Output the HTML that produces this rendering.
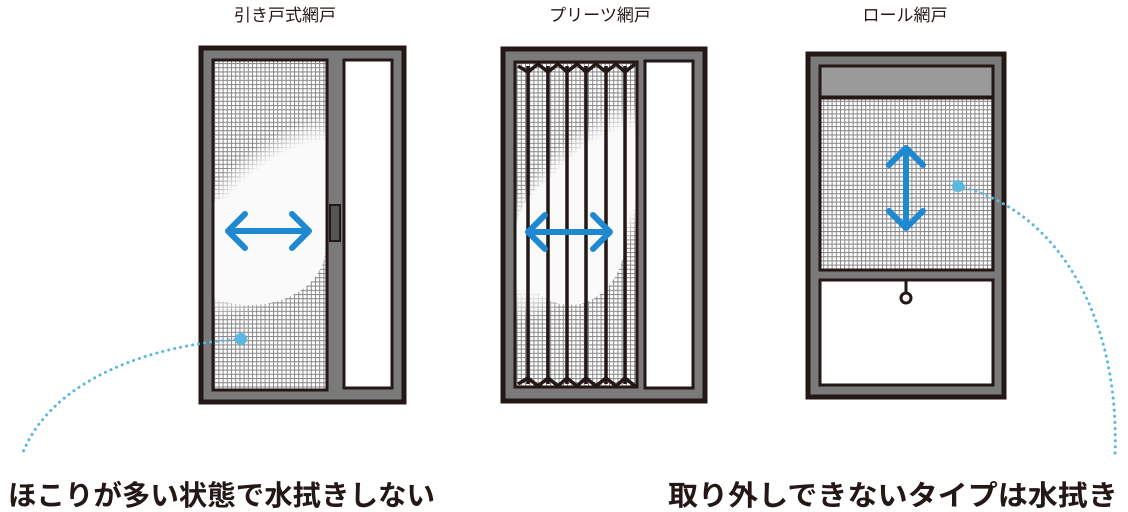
<!DOCTYPE html>
<html><head><meta charset="utf-8">
<style>
html,body{margin:0;padding:0;background:#fff;}
svg{display:block;}
text{font-family:"Liberation Sans","Noto Sans CJK JP",sans-serif;}
</style></head>
<body>
<svg width="1128" height="512" viewBox="0 0 1128 512" xmlns="http://www.w3.org/2000/svg">
<defs>
<pattern id="mesh" width="4.2" height="4.2" patternUnits="userSpaceOnUse">
<rect width="4.2" height="4.2" fill="#fff"/>
<path d="M0 0.5H4.2M0.5 0V4.2" stroke="#888" stroke-width="1"/>
</pattern>
<radialGradient id="fade" cx="0.5" cy="0.5" r="0.5">
<stop offset="0.7" stop-color="#fafafa" stop-opacity="1"/>
<stop offset="1" stop-color="#fafafa" stop-opacity="0"/>
</radialGradient>
<clipPath id="c1"><rect x="213" y="60" width="114" height="330"/></clipPath>
<clipPath id="c2"><rect x="515" y="62" width="122" height="325"/></clipPath>
</defs>

<!-- titles -->
<text x="285" y="21" font-size="17" text-anchor="middle" fill="#231815">引き戸式網戸</text>
<text x="600" y="21" font-size="17" text-anchor="middle" fill="#231815">プリーツ網戸</text>
<text x="905" y="21" font-size="17" text-anchor="middle" fill="#231815">ロール網戸</text>

<!-- Door 1 -->
<rect x="201" y="48" width="203" height="354" fill="#7a7a7a" stroke="#231815" stroke-width="5"/>
<rect x="213" y="60" width="114" height="330" fill="url(#mesh)" stroke="#231815" stroke-width="3"/>
<g clip-path="url(#c1)">
<ellipse cx="280" cy="215" rx="140" ry="70" transform="rotate(-40 280 215)" fill="url(#fade)"/>
<ellipse cx="250" cy="250" rx="75" ry="55" fill="#fafafa"/>
</g>
<rect x="213" y="60" width="114" height="330" fill="none" stroke="#231815" stroke-width="3"/>
<rect x="344" y="60" width="48" height="328" fill="#fff" stroke="#231815" stroke-width="3"/>
<rect x="330" y="205" width="10" height="36" fill="#555" stroke="#231815" stroke-width="2"/>
<g stroke="#1e88d0" stroke-width="6" stroke-linecap="round" stroke-linejoin="round" fill="none">
<path d="M228 231H309M245 214L228 231L245 248M292 214L309 231L292 248"/>
</g>

<!-- Door 2 -->
<rect x="503" y="49" width="202" height="352" fill="#7a7a7a" stroke="#231815" stroke-width="5"/>
<rect x="515" y="62" width="122" height="325" fill="url(#mesh)"/>
<g clip-path="url(#c2)">
<ellipse cx="580" cy="210" rx="140" ry="60" transform="rotate(-50 580 210)" fill="url(#fade)"/>
<ellipse cx="570" cy="240" rx="55" ry="65" fill="#fafafa"/>
</g>
<rect x="515" y="62" width="122" height="325" fill="none" stroke="#231815" stroke-width="3"/>
<g stroke="#231815" stroke-width="3.5" fill="none">
<path d="M528 66V384M548 66V384M567 66V384M586 66V384M606 66V384M625 66V384"/>
<path d="M518 66L528 72L538 64L548 72L558 64L567 72L577 64L586 72L596 64L606 72L616 64L625 72L635 64"/>
<path d="M518 384L528 378L538 386L548 378L558 386L567 378L577 386L586 378L596 386L606 378L616 386L625 378L635 386"/>
</g>
<rect x="645" y="61" width="48" height="327" fill="#fff" stroke="#231815" stroke-width="3"/>
<g stroke="#1e88d0" stroke-width="6" stroke-linecap="round" stroke-linejoin="round" fill="none">
<path d="M528 232H610M545 215L528 232L545 249M593 215L610 232L593 249"/>
</g>

<!-- Door 3 -->
<rect x="808" y="54" width="196" height="343" fill="#7a7a7a" stroke="#231815" stroke-width="5"/>
<rect x="820" y="66" width="173" height="31" fill="#9a9a9a" stroke="#231815" stroke-width="3"/>
<rect x="820" y="98" width="173" height="172" fill="url(#mesh)" stroke="#231815" stroke-width="3"/>
<rect x="820" y="280" width="173" height="105" fill="#fff" stroke="#231815" stroke-width="3"/>
<path d="M906 281V294" stroke="#231815" stroke-width="3"/>
<circle cx="906" cy="298" r="5" fill="#fff" stroke="#231815" stroke-width="3"/>
<g stroke="#1e88d0" stroke-width="6" stroke-linecap="round" stroke-linejoin="round" fill="none">
<path d="M906 148V228M889 165L906 148L923 165M889 211L906 228L923 211"/>
</g>

<!-- connectors -->
<circle cx="241" cy="339" r="6" fill="#5bb8e0"/>
<path d="M241 339C150 345 50 380 22 455" stroke="#5bb8e0" stroke-width="3" stroke-dasharray="0.1 6" stroke-linecap="round" fill="none"/>
<circle cx="958" cy="186" r="6" fill="#5bb8e0"/>
<path d="M958 186C1060 210 1120 320 1115 455" stroke="#5bb8e0" stroke-width="3" stroke-dasharray="0.1 6" stroke-linecap="round" fill="none"/>

<!-- captions -->
<text x="8" y="505" font-size="28" font-weight="bold" fill="#231815" textLength="427" lengthAdjust="spacingAndGlyphs">ほこりが多い状態で水拭きしない</text>
<text x="668" y="505" font-size="28" font-weight="bold" fill="#231815" textLength="450" lengthAdjust="spacingAndGlyphs">取り外しできないタイプは水拭き</text>
</svg>
</body></html>
